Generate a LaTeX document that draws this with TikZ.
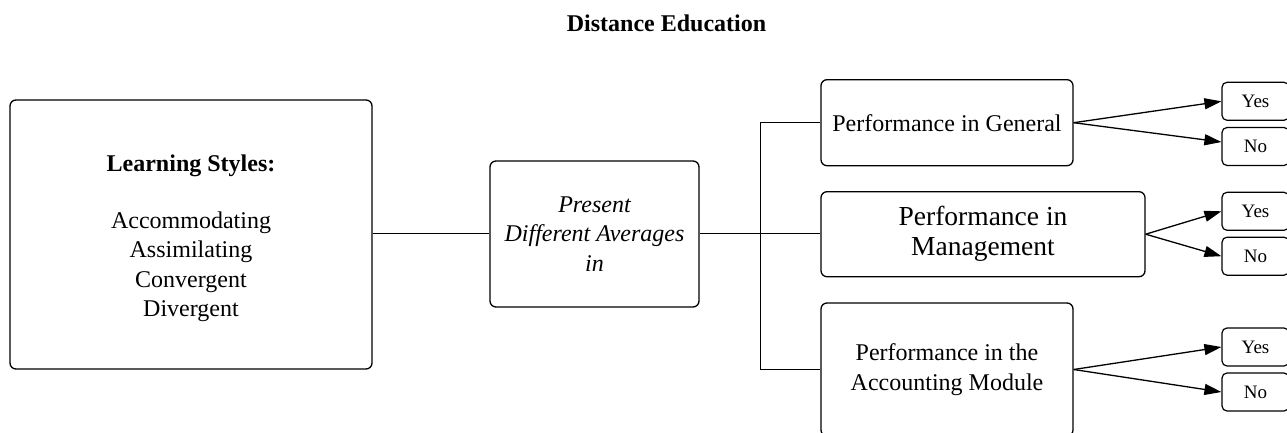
\documentclass[tikz,border=0pt]{standalone}
\usepackage{fontspec}
\setmainfont{Liberation Serif}
\usetikzlibrary{arrows.meta,calc}
\begin{document}
\begin{tikzpicture}[x=1pt,y=-1pt,
  box/.style={draw, rounded corners=6pt, line width=1.3pt, inner sep=0pt, align=center, font=\fontsize{24}{29.5}\selectfont},
  yn/.style={draw, rounded corners=5pt, line width=1.2pt, inner sep=0pt, minimum width=67pt, minimum height=38pt, font=\fontsize{19}{22}\selectfont},
  link/.style={line width=1.3pt},
  arr/.style={line width=1.3pt, -{Triangle[length=17pt,width=11pt]}}]
\useasboundingbox (0,0) rectangle (1287,432);
\clip (0,0) rectangle (1287,432);

\node[font=\fontsize{24}{28}\selectfont\bfseries, anchor=base] (title) at (666.5,31.5) {Distance Education};

\node[box, minimum width=362pt, minimum height=269pt] (ls) at (191,234.5)
  {\rule{0pt}{25pt}\textbf{Learning Styles:}\\[27pt]Accommodating\\Assimilating\\Convergent\\Divergent};
\node[box, minimum width=209pt, minimum height=146pt, font=\fontsize{24}{29.5}\selectfont\itshape] (mid) at (594.5,234)
  {Present\\Different Averages\\in};
\node[box, minimum width=252pt, minimum height=86pt] (gen) at (947,122.7) {Performance in General};
\node[box, minimum width=324pt, minimum height=85pt, font=\fontsize{27.5}{30}\selectfont] (mgmt) at (983,234.2) {Performance in\\Management};
\node[box, minimum width=252pt, minimum height=133pt, font=\fontsize{24}{30}\selectfont] (acc) at (947,369.5) {Performance in the\\Accounting Module};

\node[yn] (y1) at (1255.5,101.3) {Yes};
\node[yn] (n1) at (1255.5,146.5) {No};
\node[yn] (y2) at (1255.5,211.3) {Yes};
\node[yn] (n2) at (1255.5,256.2) {No};
\node[yn] (y3) at (1255.5,347) {Yes};
\node[yn] (n3) at (1255.5,392) {No};

\coordinate (j) at (760.7,233.3);
\draw[link] (ls.east |- j) -- (mid.west |- j);
\draw[link] (mid.east |- j) -- (mgmt.west |- j);
\draw[link] (gen.west) -- (gen.west -| j) -- (acc.west -| j) -- (acc.west);

\draw[arr] (gen.east) -- (y1.west);
\draw[arr] (gen.east) -- ($(n1.west)+(0,-4.5)$);
\draw[arr] (mgmt.east) -- (y2.west);
\draw[arr] (mgmt.east) -- (n2.west);
\draw[arr] (acc.east) -- (y3.west);
\draw[arr] (acc.east) -- (n3.west);
\end{tikzpicture}
\end{document}
